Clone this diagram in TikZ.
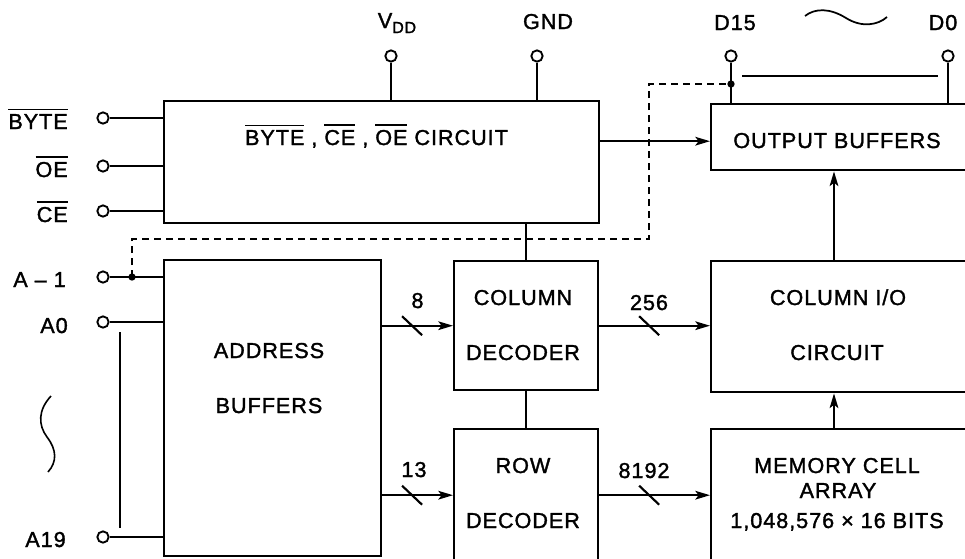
\documentclass[tikz,border=0pt]{standalone}
\usepackage{fontspec}
\setmainfont{Liberation Sans}[LetterSpace=4.5,FakeBold=1.5]
\usetikzlibrary{arrows.meta,calc}
\newcommand{\ovl}[1]{\setbox0\hbox{#1}\rlap{\rule[\dimexpr\ht0+3pt\relax]{\wd0}{1.1pt}}\box0\relax}
\tikzset{
  blk/.style={draw, line width=1.8pt, inner sep=0pt, anchor=north west, rectangle},
  lbl/.style={inner sep=0pt, anchor=base, font=\fontsize{16.2}{19}\selectfont},
  lbll/.style={lbl, anchor=base east},
  pinc/.style={draw, circle, line width=1.4pt, minimum size=8.5pt, inner sep=0pt, fill=white},
  jdot/.style={fill, circle, minimum size=5.5pt, inner sep=0pt},
  wire/.style={line width=1.6pt},
  arr/.style={wire, -{Stealth[length=11pt,width=6.5pt,inset=2.5pt]}},
  dsh/.style={line width=1.3pt, dash pattern=on 5.5pt off 3.5pt},
}
\begin{document}
\begin{tikzpicture}[x=0.75pt,y=-0.75pt]
\useasboundingbox (0,0) rectangle (965,558);
\clip (0,0) rectangle (965,558);

% blocks
\node[blk, minimum width=326.25pt, minimum height=91.5pt] (ctl) at (163,100) {};
\node[blk, minimum width=162.75pt, minimum height=222pt] (addr) at (163,259) {};
\node[blk, minimum width=108pt, minimum height=96.75pt] (coldec) at (453,260) {};
\node[blk, minimum width=108pt, minimum height=99pt] (rowdec) at (453,428) {};
\node[blk, minimum width=198.75pt, minimum height=98.25pt] (colio) at (710,260) {};
\node[blk, minimum width=198.75pt, minimum height=99pt] (mem) at (710,428) {};
\node[blk, minimum width=198.75pt, minimum height=49.5pt] (outbuf) at (710,103) {};

% pins
\node[pinc] (pbyte) at (103,118) {};
\node[pinc] (poe) at (103,166) {};
\node[pinc] (pce) at (103,211) {};
\node[pinc] (pa1) at (103,277) {};
\node[pinc] (pa0) at (103,322) {};
\node[pinc] (pa19) at (103,537) {};
\node[pinc] (pvdd) at (391,56) {};
\node[pinc] (pgnd) at (537,56) {};
\node[pinc] (pd15) at (731,56) {};
\node[pinc] (pd0) at (948,56) {};

% pin wires
\draw[wire] (pbyte) -- (pbyte -| ctl.west);
\draw[wire] (poe) -- (poe -| ctl.west);
\draw[wire] (pce) -- (pce -| ctl.west);
\draw[wire] (pa1) -- (pa1 -| addr.west);
\draw[wire] (pa0) -- (pa0 -| addr.west);
\draw[wire] (pa19) -- (pa19 -| addr.west);
\draw[wire] (pvdd) -- (pvdd |- ctl.north);
\draw[wire] (pgnd) -- (pgnd |- ctl.north);
\draw[wire] (pd15) -- (pd15 |- outbuf.north);
\draw[wire] (pd0) -- (pd0 |- outbuf.north);
\coordinate (bl) at (742,76);
\coordinate (br) at (938,76);
\draw[wire] (bl) -- (br);

% address bus bracket
\coordinate (vt) at (120,332);
\coordinate (vb) at (120,528);
\draw[wire] (vt) -- (vb);
\draw[line width=1.2pt] (51,396) .. controls (38,410) and (38,425) .. (47,437) .. controls (57,450) and (57,462) .. (48,472);
\draw[line width=1.3pt] (805,16) .. controls (815,8) and (830,8) .. (846,18) .. controls (862,28) and (878,25) .. (887,17);

% dashed byte line
\node[jdot] (ja1) at (132,277) {};
\node[jdot] (jd15) at (731,84) {};
\coordinate (dbend) at (649,239);
\draw[dsh] (ja1.center) |- (dbend) |- (jd15.center);

% internal connections
\draw[wire] (coldec.north) -- (coldec.north |- ctl.south);
\draw[wire] (coldec.south) -- (rowdec.north);
\coordinate (obin) at ([yshift=-3pt]outbuf.west);
\draw[arr] (ctl.east |- obin) -- (obin);
\draw[arr] (addr.east |- coldec.west) -- coordinate[pos=0.42] (s8) (coldec.west);
\draw[arr] (addr.east |- rowdec.west) -- coordinate[pos=0.42] (s13) (rowdec.west);
\draw[arr] (coldec.east) -- coordinate[pos=0.45] (s256) (coldec.east -| colio.west);
\draw[arr] (rowdec.east) -- coordinate[pos=0.45] (s8192) (rowdec.east -| mem.west);
\foreach \s in {s8,s13,s256,s8192} \draw[wire] (\s) ++(-10,-9.5) -- ++(20,19);
\draw[arr] ([xshift=93pt]mem.north west) -- ([xshift=93pt]colio.south west);
\draw[arr] ([xshift=93pt]colio.north west) -- ([xshift=93pt]outbuf.south west);

% labels
\node[lbll] (lbyte) at (68,129) {\ovl{BYTE}};
\node[lbll] (loe) at (68,177) {\ovl{OE}};
\node[lbll] (lce) at (68,222) {\ovl{CE}};
\node[lbll] (la1) at (66,287) {A – 1};
\node[lbll] (la0) at (68,333) {A0};
\node[lbll] (la19) at (66,547) {A19};
\node[lbl] (lvdd) at (397,28) {V\raisebox{-3.75pt}{\fontsize{12}{14}\selectfont DD}};
\node[lbl] (lgnd) at (548,29) {GND};
\node[lbl] (ld15) at (735,30) {D15};
\node[lbl] (ld0) at (943,30) {D0};
\node[lbl] (tctl) at (376.5,145) {\ovl{BYTE} , \ovl{CE} , \ovl{OE} CIRCUIT};
\node[lbl] (tob) at (837,148) {OUTPUT BUFFERS};
\node[lbl] (tcd1) at (523,305) {COLUMN};
\node[lbl] (tcd2) at (523,360) {DECODER};
\node[lbl] (trd1) at (523,473) {ROW};
\node[lbl] (trd2) at (523,528) {DECODER};
\node[lbl] (tio1) at (838,305) {COLUMN I/O};
\node[lbl] (tio2) at (837,360) {CIRCUIT};
\node[lbl] (tm1) at (837,473) {MEMORY CELL};
\node[lbl] (tm2) at (838,498) {ARRAY};
\node[lbl] (tm3) at (837,528) {1,048,576 × 16 BITS};
\node[lbl] (ta1) at (269,358) {ADDRESS};
\node[lbl] (ta2) at (269,413) {BUFFERS};
\node[lbl] (n8) at (417.5,308) {8};
\node[lbl] (n13) at (414,477) {13};
\node[lbl] (n256) at (649,310) {256};
\node[lbl] (n8192) at (644,478) {8192};
\end{tikzpicture}
\end{document}
